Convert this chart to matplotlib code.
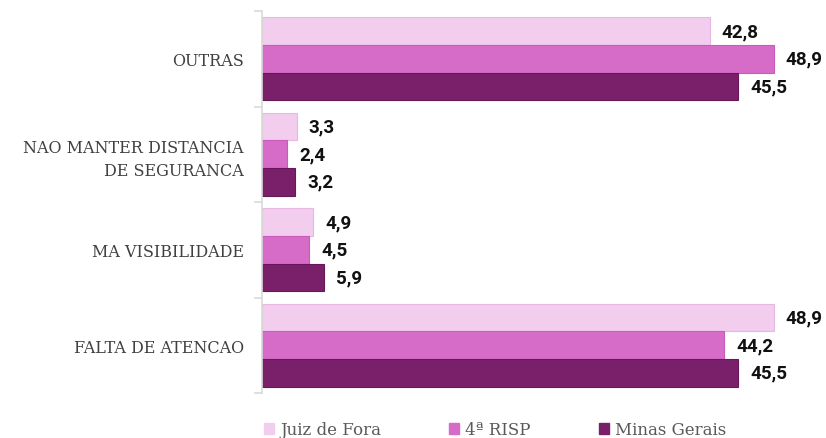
import matplotlib
matplotlib.use("Agg")
import matplotlib.pyplot as plt
from matplotlib.patches import Patch
import numpy as np

# categories from bottom to top
categories = ["FALTA DE ATENCAO", "MA VISIBILIDADE", "NAO MANTER DISTANCIA\nDE SEGURANCA", "OUTRAS"]
series_names = ["Juiz de Fora", "4ª RISP", "Minas Gerais"]
juiz_de_fora = [48.9, 4.9, 3.3, 42.8]
risp4 = [44.2, 4.5, 2.4, 48.9]
minas_gerais = [45.5, 5.9, 3.2, 45.5]

colors = ["#F2CDEE", "#D66CC8", "#7A1F6A"]
edges = ["#E8B8E2", "#C85BBB", "#6A165B"]

fig = plt.figure(figsize=(8.26, 4.39), dpi=100)
ax = fig.add_axes([262 / 826, 1 - 394 / 439, 544 / 826, 382 / 439])

y = np.arange(len(categories))
h = 0.288
offsets = [h, 0, -h]
for vals, off, c, ec, name in zip([juiz_de_fora, risp4, minas_gerais], offsets, colors, edges, series_names):
    bars = ax.barh(y + off, vals, height=h, color=c, edgecolor=ec, linewidth=0.8, label=name)
    for b, v in zip(bars, vals):
        ax.text(b.get_width() + 1.15, b.get_y() + b.get_height() / 2, f"{v:.1f}".replace(".", ","),
                va="center", ha="left", fontsize=13.5, fontweight="bold", family="Roboto", color="#111111")

ax.set_xlim(0, 52)
ax.set_ylim(-0.5, 3.5)
ax.set_xticks([])
ax.set_yticks(y)
ax.set_yticklabels(categories, family="DejaVu Serif", fontsize=11.5, color="#404040", linespacing=1.45)
ax.tick_params(axis="y", which="major", length=0, pad=13)
ax.set_yticks(np.arange(-0.5, 4, 1), minor=True)
ax.tick_params(axis="y", which="minor", length=6, color="#d9d9d9", width=1.2)
for s in ["top", "right", "bottom"]:
    ax.spines[s].set_visible(False)
ax.spines["left"].set_color("#d9d9d9")
ax.spines["left"].set_linewidth(1.2)

handles = [Patch(facecolor=c, edgecolor=c) for c in colors]
fig.legend(handles, series_names, loc="center left", bbox_to_anchor=(264 / 826, 8 / 439), ncol=3,
           frameon=False, borderpad=0, borderaxespad=0,
           handlelength=0.6, handleheight=0.6, handletextpad=0.36, columnspacing=4.1,
           prop={"family": "DejaVu Serif", "size": 12}, labelcolor="#595959")

fig.savefig("out.png", dpi=100)
